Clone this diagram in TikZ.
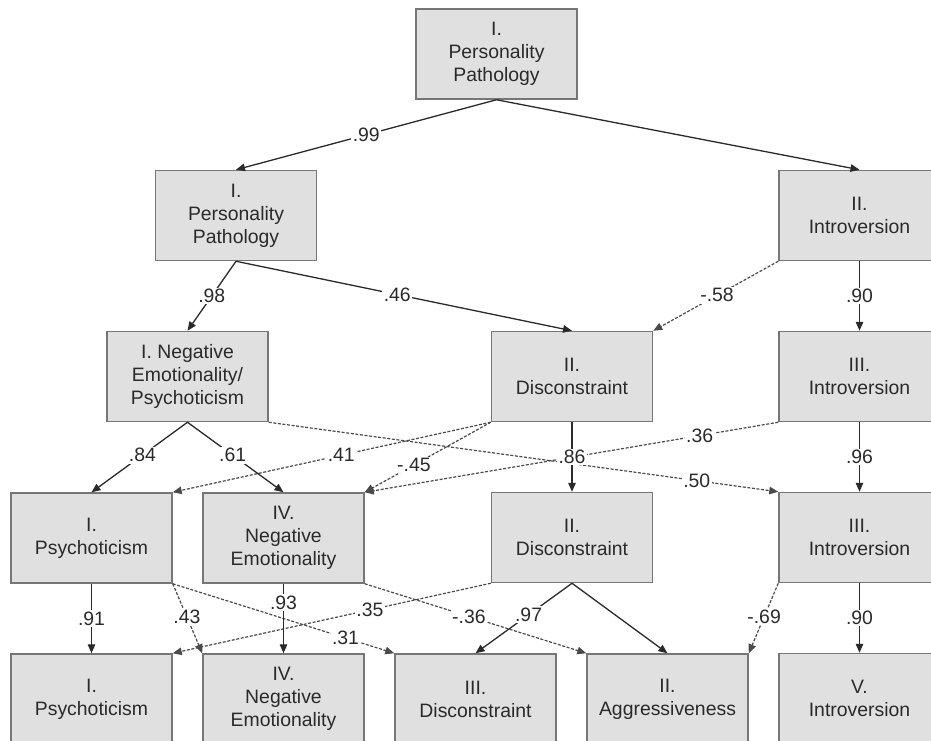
\documentclass[tikz,border=0pt]{standalone}
\usepackage{fontspec}
\setmainfont{Liberation Sans}
\usetikzlibrary{arrows.meta}
\definecolor{boxgray}{HTML}{E0E0E0}
\definecolor{edgegray}{HTML}{767676}
\definecolor{ink}{HTML}{2A2A2A}

\begin{document}
\begin{tikzpicture}[x=1pt, y=1pt, font=\fontsize{19.4}{23}\selectfont, node distance={161pt}, >={Triangle[length=9pt,width=7.5pt]},
  main/.style = {draw=edgegray, line width=1.5pt, fill=boxgray, text=ink, align=center, minimum width=161pt, minimum height=90pt, inner sep=0pt},
  lnk/.style = {->, ink, line width=1.3pt},
  dlnk/.style = {->, ink!85, line width=1.2pt, dash pattern=on 3pt off 1.6pt},
  lbl/.style = {fill=white, inner sep=1.5pt, text=ink}]
                    \useasboundingbox (0,0) rectangle (931,-740);
                    \node[main] (pp0) at (496.5,-54) {I.\\Personality\\Pathology};
                    \node[main] (pp1) at (236,-215.5) {I.\\Personality\\Pathology};
                    \node[main] (intro2) at (859.5,-215.5) {II.\\Introversion};
                    \node[main] (nep) at (187.5,-376.5) {I. Negative\\Emotionality/\\Psychoticism};
                    \node[main] (dis2) at (572,-376.5) {II.\\Disconstraint};
                    \node[main] (intro3) [below of=intro2] {III.\\Introversion};
                    \node[main] (psy1) at (91.5,-538) {I.\\Psychoticism};
                    \node[main] (ne4) at (283.5,-538) {IV.\\Negative\\Emotionality};
                    \node[main] (dis2b) [below of=dis2] {II.\\Disconstraint};
                    \node[main] (intro3b) [below of=intro3] {III.\\Introversion};
                    \node[main] (psy1b) [below of=psy1] {I.\\Psychoticism};
                    \node[main] (ne4b) [below of=ne4] {IV.\\Negative\\Emotionality};
                    \node[main] (dis3) at (475.5,-699) {III.\\Disconstraint};
                    \node[main] (agg) at (667.5,-699) {II.\\Aggressiveness};
                    \node[main] (intro5) [below of=intro3b] {V.\\Introversion};
                    \draw[lnk] (pp0.south) -- node[lbl, pos=0.5] {.99} (pp1.north);
                    \draw[lnk] (pp0.south) -- (intro2.north);
                    \draw[lnk] (pp1.south) -- node[lbl, pos=0.5] {.98} (nep.north);
                    \draw[lnk] (pp1.south) -- node[lbl, pos=0.48] {.46} (dis2.north);
                    \draw[dlnk] (intro2.south west) -- node[lbl, pos=0.49] {-.58} (dis2.north east);
                    \draw[lnk] (intro2) -- node[lbl, pos=0.5] {.90} (intro3);
                    \draw[dlnk] (nep.south east) -- node[lbl, pos=0.84] {.50} (intro3b.north west);
                    \draw[dlnk] (dis2.south west) -- node[lbl, pos=0.47] {.41} (psy1.north east);
                    \draw[dlnk] (dis2.south west) -- node[lbl, pos=0.61] {-.45} (ne4.north east);
                    \draw[dlnk] (intro3.south west) -- node[lbl, pos=0.19] {.36} (ne4.north east);
                    \draw[lnk] (nep.south) -- node[lbl, pos=0.47] {.84} (psy1.north);
                    \draw[lnk] (nep.south) -- node[lbl, pos=0.47] {.61} (ne4.north);
                    \draw[lnk] (dis2) -- node[lbl, pos=0.5] {.86} (dis2b);
                    \draw[lnk] (intro3) -- node[lbl, pos=0.5] {.96} (intro3b);
                    \draw[dlnk] (psy1.south east) -- node[lbl, pos=0.48] {.43} (ne4b.north west);
                    \draw[dlnk] (psy1.south east) -- node[lbl, pos=0.78] {.31} (dis3.north west);
                    \draw[dlnk] (ne4.south east) -- node[lbl, pos=0.47] {-.36} (agg.north west);
                    \draw[dlnk] (dis2b.south west) -- node[lbl, pos=0.38] {.35} (psy1b.north east);
                    \draw[dlnk] (intro3b.south west) -- node[lbl, pos=0.48] {-.69} (agg.north east);
                    \draw[lnk] (psy1) -- node[lbl, pos=0.5] {.91} (psy1b);
                    \draw[lnk] (ne4) -- node[lbl, pos=0.27] {.93} (ne4b);
                    \draw[lnk] (dis2b.south) -- node[lbl, pos=0.45] {.97} (dis3.north);
                    \draw[lnk] (dis2b.south) -- (agg.north);
                    \draw[lnk] (intro3b) -- node[lbl, pos=0.5] {.90} (intro5);
                \end{tikzpicture}
\end{document}
